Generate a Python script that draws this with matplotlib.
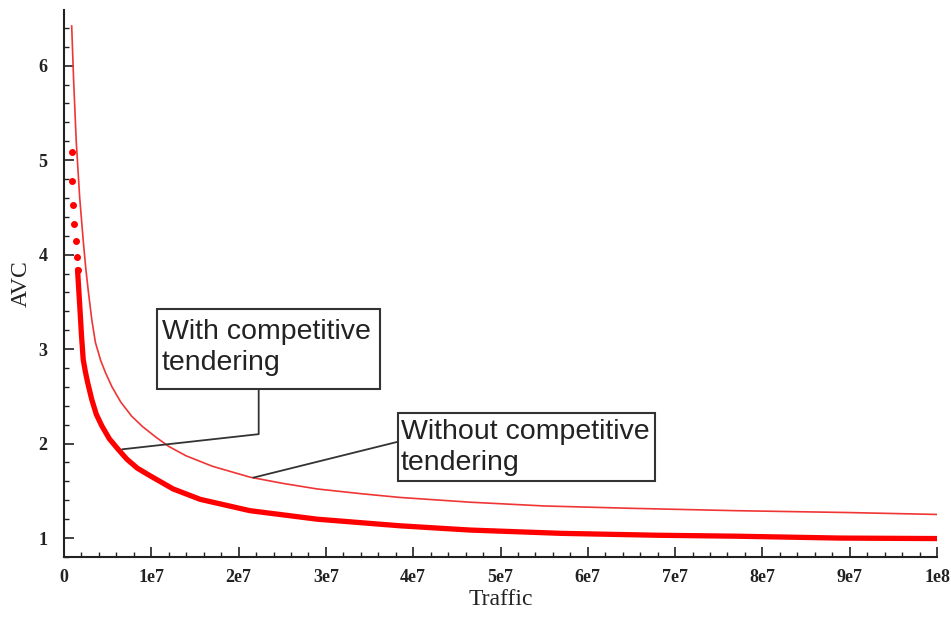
import numpy as np
import matplotlib.pyplot as plt
from matplotlib.patches import Rectangle

without_x = [0.88e6, 1.1e6, 1.4e6, 1.8e6, 2.2e6, 2.5e6, 2.8e6, 3.2e6, 3.6e6, 4.2e6,
             4.8e6, 5.5e6, 6.5e6, 7.75e6, 9.0e6, 1.05e7, 1.2e7, 1.4e7, 1.7e7, 2.13e7,
             2.5e7, 2.9e7, 3.4e7, 3.85e7, 4.65e7, 5.5e7, 6.5e7, 7.7e7, 9.0e7, 1.0e8]
without_y = [6.42, 5.85, 5.2, 4.6, 4.15, 3.85, 3.6, 3.3, 3.07, 2.88,
             2.74, 2.6, 2.44, 2.29, 2.18, 2.07, 1.97, 1.87, 1.76, 1.645,
             1.58, 1.52, 1.47, 1.43, 1.38, 1.34, 1.315, 1.29, 1.27, 1.25]

with_x = [0.88e6, 0.95e6, 1.07e6, 1.2e6, 1.34e6, 1.45e6, 1.55e6, 1.83e6, 2.0e6, 2.2e6,
          2.45e6, 2.7e6, 3.17e6, 3.7e6, 4.32e6, 5.2e6, 6.2e6, 7.2e6, 8.4e6, 9.85e6,
          1.25e7, 1.56e7, 2.13e7, 2.9e7, 3.85e7, 4.65e7, 5.7e7, 6.8e7, 7.7e7, 8.9e7, 1.0e8]
with_y = [5.09, 4.78, 4.53, 4.32, 4.14, 3.97, 3.84, 3.42, 3.15, 2.89,
          2.76, 2.65, 2.47, 2.31, 2.19, 2.05, 1.94, 1.835, 1.74, 1.66,
          1.52, 1.41, 1.29, 1.2, 1.13, 1.085, 1.05, 1.03, 1.02, 1.0, 0.995]

xticks = [0, 1e7, 2e7, 3e7, 4e7, 5e7, 6e7, 7e7, 8e7, 9e7, 1e8]
xtick_labels = ['0', '1e7', '2e7', '3e7', '4e7', '5e7', '6e7', '7e7', '8e7', '9e7', '1e8']
yticks = [1, 2, 3, 4, 5, 6]

fig = plt.figure(figsize=(9.51, 6.31), dpi=100)
ax = fig.add_axes([0.0673, 0.1173, 0.918, 0.867])

ax.plot(without_x, without_y, color='#f03535', lw=1.2)
# steep part of the lower curve shows as separate dots
ax.plot(with_x[:7], with_y[:7], color='#ff0000', ls='none', marker='o', ms=4)
ax.plot(with_x[6:], with_y[6:], color='#ff0000', lw=3.8, solid_capstyle='round')

ax.set_xlim(0, 1e8)
ax.set_ylim(0.81, 6.59)
ax.set_xticks(xticks)
ax.set_xticklabels(xtick_labels)
ax.set_xticks(np.arange(0, 1e8 + 1, 2e6), minor=True)
ax.set_yticks(yticks)
ax.set_yticks(np.arange(0.8, 6.6, 0.2), minor=True)

for s in ['top', 'right']:
    ax.spines[s].set_visible(False)
for s in ['left', 'bottom']:
    ax.spines[s].set_linewidth(1.5)
    ax.spines[s].set_color('#222222')

tick_font = dict(family='Liberation Serif', weight='bold', size=13)
ax.tick_params(which='major', direction='in', length=7, width=1.2, color='#222222', pad=9)
ax.tick_params(which='minor', direction='in', length=3.5, width=1.0, color='#222222')
for lab in ax.get_xticklabels() + ax.get_yticklabels():
    lab.set_fontproperties(tick_font)
    lab.set_color('#222222')
ax.tick_params(axis='y', pad=12)

ax.set_xlabel('Traffic', family='Liberation Serif', fontsize=17, color='#222222', labelpad=2)
ax.set_ylabel('AVC', family='Liberation Serif', fontsize=17, color='#222222', labelpad=5)

# annotation boxes
box_kw = dict(facecolor='white', edgecolor='#333333', lw=1.5, zorder=5)
ax.add_patch(Rectangle((1.065e7, 2.575), 2.555e7, 0.845, **box_kw))
ax.text(1.12e7, 3.32, 'With competitive\ntendering', family='Liberation Sans', fontsize=20.5,
        color='#222222', va='top', ha='left', linespacing=1.25, zorder=6)
ax.add_patch(Rectangle((3.826e7, 1.60), 2.944e7, 0.72, **box_kw))
ax.text(3.86e7, 2.26, 'Without competitive\ntendering', family='Liberation Sans', fontsize=20.5,
        color='#222222', va='top', ha='left', linespacing=1.25, zorder=6)

# leader lines
ax.plot([2.23e7, 2.23e7, 0.67e7], [2.575, 2.10, 1.94], color='#333333', lw=1.3, zorder=4)
ax.plot([3.826e7, 2.17e7], [2.02, 1.64], color='#333333', lw=1.3, zorder=4)

fig.savefig('out.png', dpi=100)
